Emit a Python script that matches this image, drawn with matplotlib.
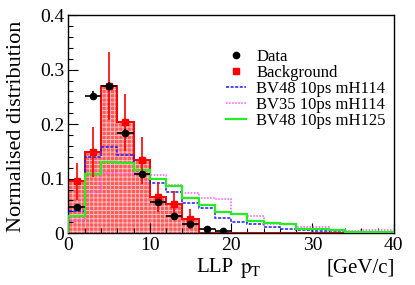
import matplotlib
matplotlib.use("Agg")
import matplotlib.pyplot as plt
import numpy as np
from matplotlib.ticker import MultipleLocator, FuncFormatter
from matplotlib.lines import Line2D

plt.rcParams['font.family'] = ['Liberation Serif', 'DejaVu Serif']
plt.rcParams['mathtext.fontset'] = 'stix'
plt.rcParams['hatch.linewidth'] = 0.6

# bins of 2 GeV/c from 0 to 40
edges = np.arange(0, 42, 2)
centres = edges[:-1] + 1

data = [0.048, 0.252, 0.270, 0.184, 0.108, 0.058, 0.031, 0.0165, 0.0073, 0.0037,
        0, 0, 0, 0, 0, 0, 0, 0, 0, 0]
data_err = [0.006, 0.008, 0.008, 0.007, 0.005, 0.004, 0.003, 0.002, 0.0015, 0.001,
            0, 0, 0, 0, 0, 0, 0, 0, 0, 0]

bkg = [0.095, 0.149, 0.270, 0.203, 0.134, 0.066, 0.053, 0.026,
       0, 0, 0, 0, 0, 0, 0, 0, 0, 0, 0, 0]
bkg_err = [0.034, 0.046, 0.062, 0.052, 0.043, 0.027, 0.024, 0.018,
           0, 0, 0, 0, 0, 0, 0, 0, 0, 0, 0, 0]

bv48_114 = [0.041, 0.140, 0.158, 0.144, 0.116, 0.092, 0.075, 0.056, 0.047, 0.027,
            0.021, 0.016, 0.0105, 0.0068, 0.0055, 0.0037, 0.003, 0.002, 0.0015, 0.0013]
bv35_114 = [0.024, 0.076, 0.111, 0.108, 0.110, 0.106, 0.088, 0.074, 0.065, 0.062,
            0.036, 0.032, 0.0165, 0.0165, 0.0116, 0.011, 0.004, 0.004, 0.005, 0.005]
bv48_125 = [0.031, 0.108, 0.131, 0.128, 0.116, 0.099, 0.086, 0.064, 0.051, 0.038,
            0.036, 0.0226, 0.018, 0.0165, 0.0073, 0.0073, 0.0055, 0.0024, 0.0018, 0.0018]

fig = plt.figure(figsize=(4.15, 2.85), dpi=100)
ax = fig.add_axes([0.165, 0.182, 0.784, 0.765])

# background histogram: hatched red fill + outline
ax.stairs(bkg, edges, fill=True, facecolor='#ff5c5c', edgecolor='#ffc8c8',
          hatch='++++', linewidth=0, zorder=1)
ax.stairs(bkg, edges, color='red', linewidth=1.4, zorder=2)

# signal samples
ax.stairs(bv48_114, edges, color='#1a1aff', linestyle=(0, (2, 1)), linewidth=1.1, zorder=3)
ax.stairs(bv35_114, edges, color='#ff55ff', linestyle=(0, (1, 1)), linewidth=1.1, zorder=3)
ax.stairs(bv48_125, edges, color='#22ee22', linewidth=1.6, zorder=3)

# background points
bkg = np.array(bkg)
mb = bkg > 0
ax.errorbar(centres[mb], bkg[mb], yerr=np.array(bkg_err)[mb], fmt='s', color='red',
            markersize=4.5, elinewidth=1.2, capsize=0, zorder=4)

# data points
data = np.array(data)
md = data > 0
ax.errorbar(centres[md], data[md], xerr=1, yerr=np.array(data_err)[md], fmt='o',
            color='black', markersize=4.5, elinewidth=1.2, capsize=0, zorder=5)

ax.set_xlim(0, 40)
ax.set_ylim(0, 0.4)
ax.xaxis.set_major_locator(MultipleLocator(10))
ax.xaxis.set_minor_locator(MultipleLocator(2))
ax.yaxis.set_major_locator(MultipleLocator(0.1))
ax.yaxis.set_minor_locator(MultipleLocator(0.02))
ax.yaxis.set_major_formatter(FuncFormatter(lambda v, p: '0' if abs(v) < 1e-9 else f'{v:.1f}'))
ax.tick_params(which='both', direction='in', top=False, right=False, labelsize=14)
ax.tick_params(which='major', length=7, width=0.8)
ax.tick_params(which='minor', length=3.5, width=0.8)
ax.tick_params(axis='x', pad=3)
ax.tick_params(axis='y', pad=3)
for s in ax.spines.values():
    s.set_linewidth(1.0)

# legend
handles = [
    Line2D([], [], marker='o', color='black', linestyle='none', markersize=4.5),
    Line2D([], [], marker='s', color='red', linestyle='none', markersize=4.5),
    Line2D([], [], color='#1a1aff', linestyle=(0, (2, 1)), linewidth=1.1),
    Line2D([], [], color='#ff55ff', linestyle=(0, (1, 1)), linewidth=1.1),
    Line2D([], [], color='#22ee22', linewidth=1.6),
]
labels = ['Data', 'Background', 'BV48 10ps mH114', 'BV35 10ps mH114', 'BV48 10ps mH125']
ax.legend(handles, labels, loc='upper left', bbox_to_anchor=(0.475, 0.86), frameon=False,
          fontsize=12, handlelength=1.2, handletextpad=0.6, labelspacing=0.0,
          borderpad=0.2, borderaxespad=0)

fig.text(196 / 415, 1 - 268 / 285, 'LLP', fontsize=15, va='center', ha='left')
fig.text(240 / 415, 1 - 270 / 285, r'$\mathrm{p_T}$', fontsize=15, va='center', ha='left')
fig.text(395 / 415, 1 - 268 / 285, '[GeV/c]', fontsize=15, va='center', ha='right')
fig.text(17 / 415, 1 - 126 / 285, 'Normalised distribution', fontsize=16,
         rotation=90, va='center', ha='center')

fig.savefig('out.png', dpi=100)
